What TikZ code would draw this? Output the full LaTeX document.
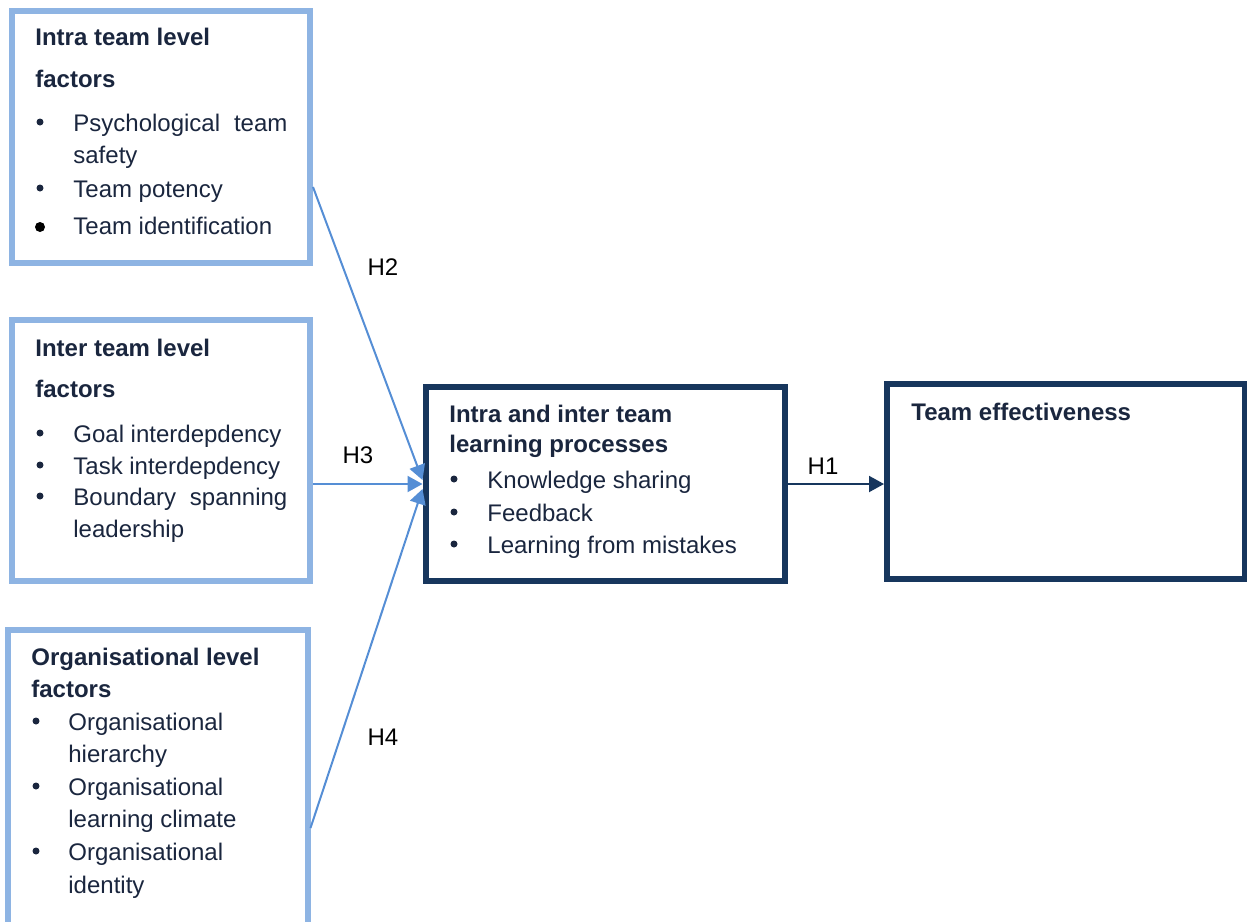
\documentclass[tikz,border=0pt]{standalone}
\usepackage{fontspec}
\setmainfont{Liberation Sans}
\usetikzlibrary{arrows.meta,calc}
\definecolor{hellblau}{RGB}{142,180,227}
\definecolor{mittelblau}{RGB}{85,142,213}
\definecolor{dunkelblau}{RGB}{23,54,93}
\definecolor{schrift}{RGB}{26,38,62}
\newcommand{\grund}{\fontsize{12pt}{14pt}\selectfont}
\tikzset{
  hellbox/.style={draw=hellblau,line width=3pt,fill=white,inner sep=0pt},
  dunkelbox/.style={draw=dunkelblau,line width=3pt,fill=white,inner sep=0pt},
  kopf/.style={anchor=base west,inner sep=0pt,text=schrift,font=\grund\bfseries},
  punkt/.style={circle,fill=schrift,inner sep=0pt,minimum size=3.5pt,yshift=4.5pt},
  eintrag/.style={anchor=base west,inner sep=0pt,text=schrift,font=\grund},
  pfeil/.style={draw=mittelblau,line width=1pt,-{Triangle[length=7.5pt,width=8pt]}},
  dpfeil/.style={draw=dunkelblau,line width=1pt,-{Triangle[length=7.5pt,width=8pt]}},
  hlabel/.style={inner sep=0pt,text=black,font=\grund}
}

\begin{document}
\begin{tikzpicture}[x=0.5pt,y=-0.5pt]
\useasboundingbox (0,0) rectangle (1247,921);
\clip (0,0) rectangle (1247,921);
%
% box: intra team level factors
\node[hellbox,minimum width=149pt,minimum height=126pt] (intra) at (161,137) {};
\node[kopf] (intra-k1) at (35,46) {Intra team level};
\node[kopf] (intra-k2) at (35,87) {factors};
\node[punkt] (intra-p1) at (40,131) {};
\node[eintrag] (intra-e1) at (73,131) {\makebox[107pt][l]{Psychological\hfill team}};
\node[eintrag] (intra-e1b) at (73,163) {safety};
\node[punkt] (intra-p2) at (40,197) {};
\node[eintrag] (intra-e2) at (73,197) {Team potency};
\node[punkt,fill=black,minimum size=5pt,yshift=-1pt] (intra-p3) at (40,234) {};
\node[eintrag] (intra-e3) at (73,234) {Team identification};
%
% box: inter team level factors
\node[hellbox,minimum width=149pt,minimum height=130.5pt] (inter) at (161,450.5) {};
\node[kopf] (inter-k1) at (35,356) {Inter team level};
\node[kopf] (inter-k2) at (35,397) {factors};
\node[punkt] (inter-p1) at (40,442) {};
\node[eintrag] (inter-e1) at (73,442) {Goal interdepdency};
\node[punkt] (inter-p2) at (40,474) {};
\node[eintrag] (inter-e2) at (73,474) {Task interdepdency};
\node[punkt] (inter-p3) at (40,505) {};
\node[eintrag] (inter-e3) at (73,505) {\makebox[107pt][l]{Boundary\hfill spanning}};
\node[eintrag] (inter-e3b) at (73,537) {leadership};
%
% box: organisational level factors
\node[hellbox,minimum width=150pt,minimum height=165pt] (org) at (157.5,795) {};
\node[kopf] (org-k1) at (31,665) {Organisational level};
\node[kopf] (org-k2) at (31,697) {factors};
\node[punkt] (org-p1) at (36,730) {};
\node[eintrag] (org-e1) at (68,730) {Organisational};
\node[eintrag] (org-e1b) at (68,762) {hierarchy};
\node[punkt] (org-p2) at (36,795) {};
\node[eintrag] (org-e2) at (68,795) {Organisational};
\node[eintrag] (org-e2b) at (68,827) {learning climate};
\node[punkt] (org-p3) at (36,860) {};
\node[eintrag] (org-e3) at (68,860) {Organisational};
\node[eintrag] (org-e3b) at (68,893) {identity};
%
% box: learning processes
\node[dunkelbox,minimum width=179.75pt,minimum height=97pt] (learn) at (605.25,484) {};
\node[kopf] (learn-k1) at (449,422) {Intra and inter team};
\node[kopf] (learn-k2) at (449,452) {learning processes};
\node[punkt] (learn-p1) at (454,488) {};
\node[eintrag] (learn-e1) at (487,488) {Knowledge sharing};
\node[punkt] (learn-p2) at (454,521) {};
\node[eintrag] (learn-e2) at (487,521) {Feedback};
\node[punkt] (learn-p3) at (454,553) {};
\node[eintrag] (learn-e3) at (487,553) {Learning from mistakes};
%
% box: team effectiveness
\node[dunkelbox,minimum width=179pt,minimum height=97.25pt] (effect) at (1066,481.25) {};
\node[kopf] (effect-k1) at (911,420) {Team effectiveness};
%
% path: hypotheses
\draw[pfeil] ($(intra.north east)+(0,179)$) -- ([yshift=2pt]learn.west);
\draw[pfeil] (inter.east |- learn.west) -- (learn.west);
\draw[pfeil] ($(org.north east)+(0,201)$) -- ([yshift=-2.5pt]learn.west);
\draw[dpfeil] (learn.east) -- (learn.east -| effect.west);

\node[hlabel] (h2) at (383,267) {H2};
\node[hlabel] (h3) at (358,455) {H3};
\node[hlabel] (h4) at (383,737) {H4};
\node[hlabel] (h1) at (823,466) {H1};
\end{tikzpicture}
\end{document}
